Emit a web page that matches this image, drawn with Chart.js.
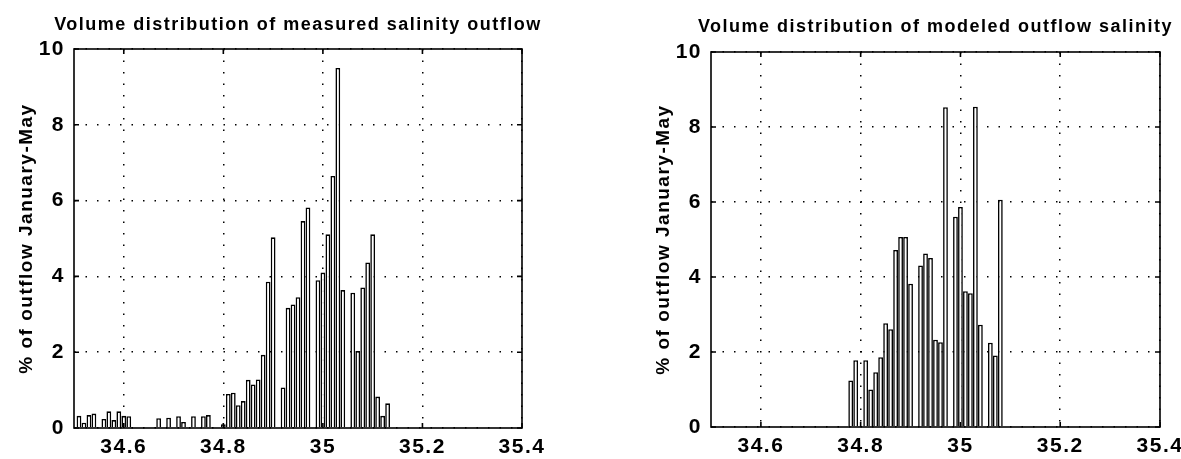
<!DOCTYPE html>
<html>
<head>
<meta charset="utf-8">
<title>Volume distribution of outflow salinity</title>
<script src="https://cdn.jsdelivr.net/npm/chart.js@4.4.1/dist/chart.umd.min.js"></script>
<style>
  html, body { margin: 0; padding: 0; background: #fff; }
  #wrap { position: relative; width: 1181px; height: 459px; overflow: hidden; }
  canvas { position: absolute; top: 0; }
  #measuredChart { left: 0; }
  #modeledChart { left: 637px; }
</style>
</head>
<body>
<div id="wrap">
  <canvas id="measuredChart" width="590" height="459"></canvas>
  <canvas id="modeledChart" width="544" height="459"></canvas>
</div>
<script>
// salinity bin centres, 0.01 wide
const salinityBins = [
  34.50, 34.51, 34.52, 34.53, 34.54, 34.55, 34.56, 34.57, 34.58, 34.59,
  34.60, 34.61, 34.62, 34.63, 34.64, 34.65, 34.66, 34.67, 34.68, 34.69,
  34.70, 34.71, 34.72, 34.73, 34.74, 34.75, 34.76, 34.77, 34.78, 34.79,
  34.80, 34.81, 34.82, 34.83, 34.84, 34.85, 34.86, 34.87, 34.88, 34.89,
  34.90, 34.91, 34.92, 34.93, 34.94, 34.95, 34.96, 34.97, 34.98, 34.99,
  35.00, 35.01, 35.02, 35.03, 35.04, 35.05, 35.06, 35.07, 35.08, 35.09,
  35.10, 35.11, 35.12, 35.13
];

// % of outflow January-May, measured
const measuredPct = [
  0, 0.32, 0.14, 0.34, 0.38, 0, 0.24, 0.44, 0.21, 0.44,
  0.32, 0.31, 0, 0, 0, 0, 0, 0.26, 0, 0.27,
  0, 0.31, 0.16, 0, 0.31, 0, 0.31, 0.34, 0, 0,
  0.1, 0.90, 0.93, 0.60, 0.71, 1.27, 1.15, 1.28, 1.93, 3.86,
  5.03, 0, 1.07, 3.17, 3.26, 3.45, 5.46, 5.82, 0, 3.90,
  4.10, 5.11, 6.65, 9.50, 3.64, 0, 3.57, 2.03, 3.71, 4.37,
  5.11, 0.83, 0.32, 0.65
];

// % of outflow January-May, modeled
const modeledPct = [
  0, 0, 0, 0, 0, 0, 0, 0, 0, 0,
  0, 0, 0, 0, 0, 0, 0, 0, 0, 0,
  0, 0, 0, 0, 0, 0, 0, 0, 1.24, 1.78,
  0, 1.78, 1.00, 1.46, 1.86, 2.77, 2.61, 4.72, 5.07, 5.07,
  3.82, 0, 4.31, 4.63, 4.51, 2.33, 2.26, 8.53, 0, 5.61,
  5.87, 3.62, 3.57, 8.54, 2.73, 0, 2.25, 1.91, 6.06, 0,
  0, 0, 0, 0
];

const xTickValues = [34.6, 34.8, 35, 35.2, 35.4];
const yTickValues = [0, 2, 4, 6, 8, 10];

const measuredTitle = 'Volume distribution of measured salinity outflow';
const modeledTitle = 'Volume distribution of modeled outflow salinity';
const yAxisTitle = '% of outflow January-May';

const FONT = '"Liberation Sans", Arial, Helvetica, sans-serif';
Chart.defaults.font.family = FONT;
Chart.defaults.font.weight = 'bold';
Chart.defaults.color = '#000';

// wider letter spacing like the printed figure
const spacingPlugin = {
  id: 'spacing',
  beforeUpdate(chart) { chart.ctx.letterSpacing = '1.5px'; },
  beforeDraw(chart) { chart.ctx.letterSpacing = '1.5px'; }
};

// box around the plot + inward tick marks
const framePlugin = {
  id: 'frame',
  afterDatasetsDraw(chart) {
    const { ctx, chartArea: a, scales } = chart;
    ctx.save();
    ctx.strokeStyle = '#000';
    ctx.lineWidth = 1.6;
    ctx.strokeRect(a.left, a.top, a.right - a.left, a.bottom - a.top);
    ctx.beginPath();
    xTickValues.forEach(v => {
      const px = scales.x.getPixelForValue(v);
      ctx.moveTo(px, a.bottom); ctx.lineTo(px, a.bottom - 5);
      ctx.moveTo(px, a.top); ctx.lineTo(px, a.top + 5);
    });
    yTickValues.forEach(v => {
      const py = scales.y.getPixelForValue(v);
      ctx.moveTo(a.left, py); ctx.lineTo(a.left + 5, py);
      ctx.moveTo(a.right, py); ctx.lineTo(a.right - 5, py);
    });
    ctx.stroke();
    ctx.restore();
  }
};

const titlePlugin = {
  id: 'panelTitle',
  afterDraw(chart, args, opts) {
    const { ctx, chartArea: a } = chart;
    ctx.save();
    ctx.letterSpacing = '1.5px';
    ctx.font = 'bold 18px ' + FONT;
    ctx.fillStyle = '#000';
    ctx.textAlign = 'center';
    ctx.textBaseline = 'alphabetic';
    ctx.fillText(opts.text, (a.left + a.right) / 2, opts.y);
    ctx.restore();
  }
};

function makePanel(canvasId, values, titleText, titleY, topPad, rightPad, xAxisHeight) {
  const points = salinityBins.map((s, i) => ({ x: s, y: values[i] }));
  return new Chart(document.getElementById(canvasId), {
    type: 'bar',
    data: {
      datasets: [{
        data: points,
        backgroundColor: '#fff',
        borderColor: '#000',
        borderWidth: 1.6,
        borderSkipped: 'start',
        barPercentage: 0.96,
        categoryPercentage: 1.0
      }]
    },
    options: {
      responsive: false,
      animation: false,
      devicePixelRatio: 1,
      layout: { padding: { top: topPad, right: rightPad, bottom: 0, left: 0 } },
      plugins: {
        legend: { display: false },
        tooltip: { enabled: false },
        panelTitle: { text: titleText, y: titleY }
      },
      scales: {
        x: {
          type: 'linear',
          min: 34.5,
          max: 35.4,
          offset: false,
          afterBuildTicks: s => { s.ticks = xTickValues.map(v => ({ value: v })); },
          afterFit: s => { s.height = xAxisHeight; s.paddingLeft = 0; s.paddingRight = 0; },
          grid: { color: '#000', lineWidth: 1.5, drawTicks: false, offset: false },
          border: { display: false, dash: [1.5, 10] },
          ticks: {
            font: { size: 21, weight: 'bold' },
            color: '#000',
            padding: 7,
            maxRotation: 0,
            autoSkip: false,
            callback: v => String(Number(v.toFixed(2)))
          }
        },
        y: {
          min: 0,
          max: 10,
          afterBuildTicks: s => { s.ticks = yTickValues.map(v => ({ value: v })); },
          afterFit: s => { s.width = 74; s.paddingTop = 0; s.paddingBottom = 0; },
          grid: { color: '#000', lineWidth: 1.5, drawTicks: false },
          border: { display: false, dash: [1.5, 10] },
          ticks: { font: { size: 21, weight: 'bold' }, color: '#000', padding: 9 },
          title: {
            display: true,
            text: yAxisTitle,
            color: '#000',
            font: { size: 19, weight: 'bold' },
            padding: { top: 15, bottom: 0 }
          }
        }
      }
    },
    plugins: [spacingPlugin, framePlugin, titlePlugin]
  });
}

makePanel('measuredChart', measuredPct, measuredTitle, 30, 49, 68, 31);
makePanel('modeledChart', modeledPct, modeledTitle, 32, 52, 21, 32);
</script>
</body>
</html>
